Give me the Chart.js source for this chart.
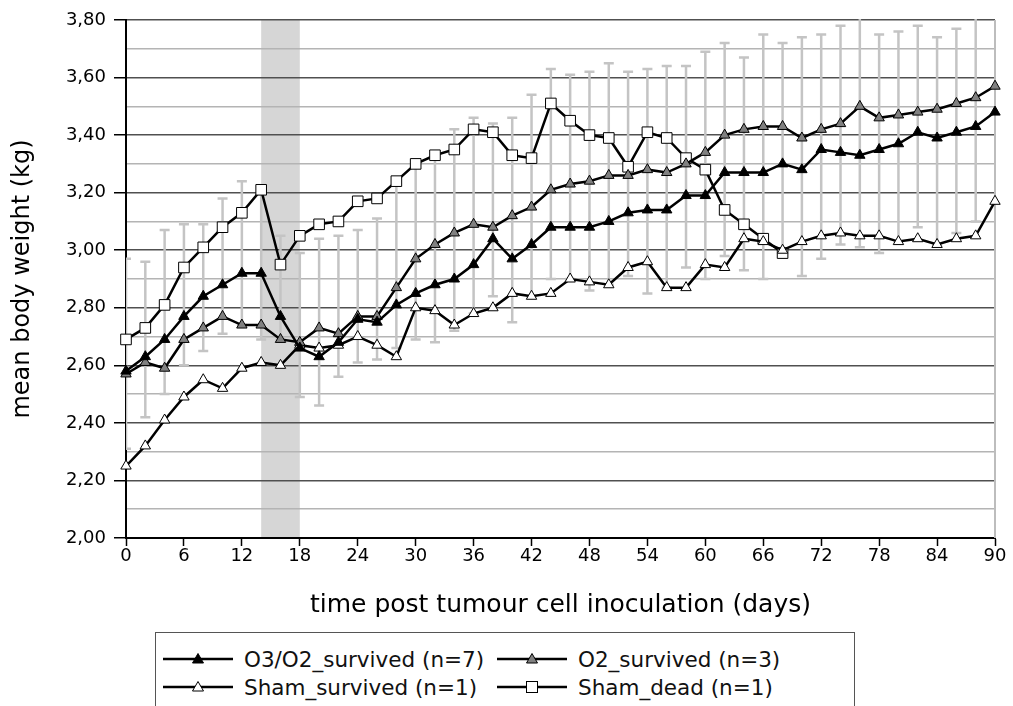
<!DOCTYPE html>
<html>
<head>
<meta charset="utf-8">
<script src="https://cdn.jsdelivr.net/npm/chart.js@4"></script>
<style>
  html, body { margin: 0; padding: 0; background: #fff; }
  #wrap { position: relative; width: 1013px; height: 706px; overflow: hidden; font-family: "DejaVu Sans", sans-serif; }
  #legend {
    position: absolute; left: 155px; top: 632px; width: 700px; height: 90px;
    border: 1px solid #555; box-sizing: border-box; background: #fff;
  }
  .item { position: absolute; height: 24px; display: flex; align-items: center; font-size: 21.5px; color: #111; white-space: nowrap; }
  .item svg { margin-right: 11px; }
</style>
</head>
<body>
<div id="wrap">
  <canvas id="chart" width="1013" height="706"></canvas>
  <div id="legend"></div>
</div>
<script>
// Data (days post inoculation, every 2 days)
const days = [0, 2, 4, 6, 8, 10, 12, 14, 16, 18, 20, 22, 24, 26, 28, 30, 32, 34, 36, 38, 40, 42, 44,
  46, 48, 50, 52, 54, 56, 58, 60, 62, 64, 66, 68, 70, 72, 74, 76, 78, 80, 82, 84, 86, 88, 90];

const o3o2Survived = [2.58, 2.63, 2.69, 2.77, 2.84, 2.88, 2.92, 2.92, 2.77, 2.66, 2.63, 2.68, 2.76,
  2.75, 2.81, 2.85, 2.88, 2.90, 2.95, 3.04, 2.97, 3.02, 3.08, 3.08, 3.08, 3.10, 3.13, 3.14, 3.14,
  3.19, 3.19, 3.27, 3.27, 3.27, 3.30, 3.28, 3.35, 3.34, 3.33, 3.35, 3.37, 3.41, 3.39, 3.41, 3.43, 3.48];

const o2Survived = [2.57, 2.61, 2.59, 2.69, 2.73, 2.77, 2.74, 2.74, 2.69, 2.68, 2.73, 2.71, 2.77,
  2.77, 2.87, 2.97, 3.02, 3.06, 3.09, 3.08, 3.12, 3.15, 3.21, 3.23, 3.24, 3.26, 3.26, 3.28, 3.27,
  3.30, 3.34, 3.40, 3.42, 3.43, 3.43, 3.39, 3.42, 3.44, 3.50, 3.46, 3.47, 3.48, 3.49, 3.51, 3.53, 3.57];

const shamSurvived = [2.25, 2.32, 2.41, 2.49, 2.55, 2.52, 2.59, 2.61, 2.60, 2.67, 2.66, 2.67, 2.70,
  2.67, 2.63, 2.80, 2.79, 2.74, 2.78, 2.80, 2.85, 2.84, 2.85, 2.90, 2.89, 2.88, 2.94, 2.96, 2.87,
  2.87, 2.95, 2.94, 3.04, 3.03, 3.00, 3.03, 3.05, 3.06, 3.05, 3.05, 3.03, 3.04, 3.02, 3.04, 3.05, 3.17];

// Sham_dead stops at day 68
const shamDead = [2.69, 2.73, 2.81, 2.94, 3.01, 3.08, 3.13, 3.21, 2.95, 3.05, 3.09, 3.10, 3.17,
  3.18, 3.24, 3.30, 3.33, 3.35, 3.42, 3.41, 3.33, 3.32, 3.51, 3.45, 3.40, 3.39, 3.29, 3.41, 3.39,
  3.32, 3.28, 3.14, 3.09, 3.04, 2.99];

// Error bar ends (grey whiskers)
const errHigh = [2.97, 2.96, 3.07, 3.09, 3.09, 3.18, 3.24, 3.21, 3.05, 2.99, 3.04, 3.05, 3.07,
  3.11, 3.24, 3.30, 3.33, 3.42, 3.46, 3.44, 3.46, 3.54, 3.63, 3.61, 3.62, 3.65, 3.62, 3.63, 3.64,
  3.64, 3.69, 3.72, 3.67, 3.75, 3.72, 3.74, 3.75, 3.78, 3.86, 3.75, 3.76, 3.78, 3.74, 3.77, 3.85, null];
const errLow = [2.31, 2.42, 2.50, 2.60, 2.65, 2.71, 2.74, 2.69, 2.69, 2.49, 2.46, 2.56, 2.61,
  2.62, 2.66, 2.69, 2.68, 2.72, 2.78, 2.84, 2.75, 2.84, 2.90, 2.90, 2.86, 2.88, 2.91, 2.85, 2.87,
  2.94, 2.90, 2.98, 2.93, 2.90, 3.00, 2.91, 2.97, 3.02, 3.01, 2.99, 3.03, 3.08, 3.02, 3.06, 3.10, null];

// Shaded treatment window
const bandStart = 14;
const bandEnd = 18;

const xTicks = [0, 6, 12, 18, 24, 30, 36, 42, 48, 54, 60, 66, 72, 78, 84, 90];

const seriesInfo = [
  { label: 'O3/O2_survived (n=7)', values: o3o2Survived, shape: 'triangle', fill: '#000000' },
  { label: 'O2_survived (n=3)', values: o2Survived, shape: 'triangle', fill: '#808080' },
  { label: 'Sham_survived (n=1)', values: shamSurvived, shape: 'triangle', fill: '#ffffff' },
  { label: 'Sham_dead (n=1)', values: shamDead, shape: 'rect', fill: '#ffffff' }
];

const toPoints = values => values.map((v, i) => ({ x: days[i], y: v }));

// Plugin: grey band, error bars and right border
const extras = {
  id: 'extras',
  beforeDraw(chart) {
    const { ctx, chartArea: a, scales: { x } } = chart;
    ctx.save();
    ctx.fillStyle = '#d6d6d6';
    const x0 = x.getPixelForValue(bandStart), x1 = x.getPixelForValue(bandEnd);
    ctx.fillRect(x0, a.top, x1 - x0, a.bottom - a.top);
    ctx.restore();
  },
  beforeDatasetsDraw(chart) {
    const { ctx, chartArea: a, scales: { x, y } } = chart;
    ctx.save();
    ctx.beginPath();
    ctx.rect(a.left, a.top - 1, a.right - a.left, a.bottom - a.top + 1);
    ctx.clip();
    ctx.strokeStyle = '#c4c4c4';
    ctx.lineWidth = 2.5;
    days.forEach((d, i) => {
      if (errHigh[i] == null) return;
      const px = x.getPixelForValue(d);
      const top = y.getPixelForValue(errHigh[i]);
      const bot = y.getPixelForValue(errLow[i]);
      ctx.beginPath();
      ctx.moveTo(px, top); ctx.lineTo(px, bot);
      ctx.moveTo(px - 5, top); ctx.lineTo(px + 5, top);
      ctx.moveTo(px - 5, bot); ctx.lineTo(px + 5, bot);
      ctx.stroke();
    });
    ctx.restore();
    ctx.save();
    ctx.strokeStyle = '#bdbdbd';
    ctx.lineWidth = 2;
    ctx.beginPath();
    ctx.moveTo(a.right, a.top); ctx.lineTo(a.right, a.bottom);
    ctx.stroke();
    ctx.restore();
  }
};

const isMajor = v => Math.round(v * 10) % 2 === 0;

new Chart('chart', {
  type: 'line',
  data: {
    datasets: seriesInfo.map(s => ({
      label: s.label,
      data: toPoints(s.values),
      borderColor: '#000',
      borderWidth: 2.5,
      tension: 0,
      pointStyle: s.shape,
      pointRadius: s.shape === 'rect' ? 7.5 : 6,
      pointBackgroundColor: s.fill,
      pointBorderColor: '#000',
      pointBorderWidth: 1,
      clip: 8
    }))
  },
  options: {
    responsive: false,
    animation: false,
    layout: { padding: { left: 0, top: 20, right: 18, bottom: 86 } },
    plugins: { legend: { display: false }, tooltip: { enabled: false } },
    scales: {
      x: {
        type: 'linear',
        min: 0,
        max: 90,
        afterBuildTicks: scale => { scale.ticks = xTicks.map(v => ({ value: v })); },
        afterFit: scale => { scale.height = 82; },
        ticks: { color: '#000', font: { family: 'DejaVu Sans', size: 18 }, padding: 0, maxRotation: 0, autoSkip: false },
        grid: { drawOnChartArea: false, tickLength: 8, tickColor: '#000', tickWidth: 1.5 },
        border: { color: '#000', width: 2 },
        title: {
          display: true,
          text: 'time post tumour cell inoculation (days)',
          color: '#000',
          font: { family: 'DejaVu Sans', size: 25 },
          padding: { top: 0, bottom: 0 }
        }
      },
      y: {
        min: 2,
        max: 3.8,
        afterFit: scale => { scale.width = 126; },
        ticks: {
          stepSize: 0.1,
          autoSkip: false,
          color: '#000',
          padding: 8,
          font: { family: 'DejaVu Sans', size: 18 },
          callback: v => isMajor(v) ? v.toFixed(2).replace('.', ',') : ''
        },
        grid: {
          color: c => isMajor(c.tick.value) ? '#505050' : '#b4b4b4',
          lineWidth: 1.5,
          tickLength: 12,
          tickColor: c => isMajor(c.tick.value) ? '#000' : 'rgba(0,0,0,0)',
          tickWidth: 1.5
        },
        border: { color: '#000', width: 2 },
        title: {
          display: true,
          text: 'mean body weight (kg)',
          color: '#000',
          font: { family: 'DejaVu Sans', size: 24 },
          padding: { top: 8, bottom: 0 }
        }
      }
    }
  },
  plugins: [extras]
});

// HTML legend with line + marker symbols
function symbolSvg(shape, fill) {
  const marker = shape === 'rect'
    ? `<rect x="29.5" y="6.5" width="11" height="11" fill="${fill}" stroke="#000" stroke-width="1"/>`
    : `<polygon points="35,6.5 40.5,16 29.5,16" fill="${fill}" stroke="#000" stroke-width="1"/>`;
  return `<svg width="70" height="24"><line x1="0" y1="12" x2="70" y2="12" stroke="#000" stroke-width="2.5"/>${marker}</svg>`;
}

const legendPos = [
  { left: 7, top: 14 }, { left: 341, top: 14 },
  { left: 7, top: 42 }, { left: 341, top: 42 }
];
document.getElementById('legend').innerHTML = seriesInfo.map((s, i) =>
  `<div class="item" style="left:${legendPos[i].left}px;top:${legendPos[i].top}px">${symbolSvg(s.shape, s.fill)}${s.label}</div>`
).join('');
</script>
</body>
</html>
